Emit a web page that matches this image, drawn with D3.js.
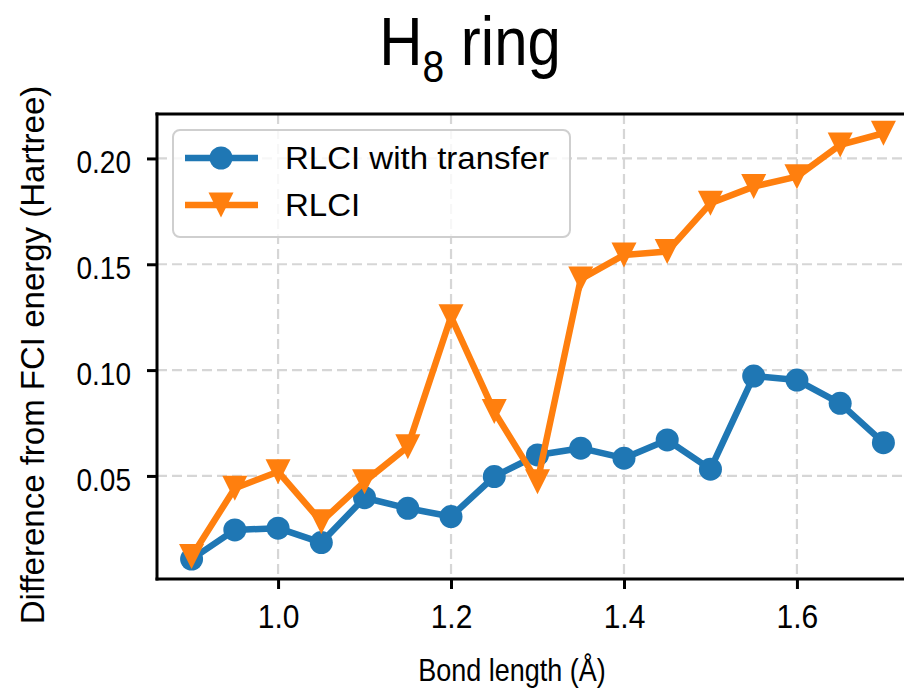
<!DOCTYPE html>
<html>
<head>
<meta charset="utf-8">
<script src="https://cdn.jsdelivr.net/npm/d3@7/dist/d3.min.js"></script>
<style>
  html, body { margin: 0; padding: 0; background: #fff; }
  svg { display: block; }
  text { font-family: "Liberation Sans", Arial, Helvetica, sans-serif; fill: #000; }
</style>
</head>
<body>
<svg id="chart" width="904" height="690"></svg>
<script>
// ---- data ----
const bondLengths = [0.90, 0.95, 1.00, 1.05, 1.10, 1.15, 1.20, 1.25, 1.30, 1.35, 1.40, 1.45, 1.50, 1.55, 1.60, 1.65, 1.70];
const rlciTransfer = [0.0107, 0.0245, 0.0253, 0.0185, 0.0397, 0.0347, 0.0308, 0.0497, 0.0599, 0.0631, 0.0584, 0.0670, 0.0532, 0.0972, 0.0953, 0.0843, 0.0657];
const rlci = [0.0119, 0.0442, 0.0520, 0.0284, 0.0473, 0.0638, 0.1252, 0.0804, 0.0473, 0.1430, 0.1544, 0.1560, 0.1788, 0.1867, 0.1914, 0.2064, 0.2119];
const xTicks = [1.0, 1.2, 1.4, 1.6];
const yTicks = [0.05, 0.10, 0.15, 0.20];
const seriesNames = ["RLCI with transfer", "RLCI"];
const seriesColors = ["#1f77b4", "#ff7f0e"];
const xDomain = [0.86, 1.74];
const yDomain = [0.0013, 0.2210];

// ---- layout ----
const svg = d3.select("#chart");
const plot = { left: 157, right: 918, top: 114, bottom: 579 };
const SY = 1.15; // vertical text stretch seen in reference

const x = d3.scaleLinear().domain(xDomain).range([plot.left, plot.right]);
const y = d3.scaleLinear().domain(yDomain).range([plot.bottom, plot.top]);

// grid
const grid = svg.append("g");
grid.selectAll("line.gx").data(xTicks).join("line")
  .attr("x1", d => x(d)).attr("x2", d => x(d))
  .attr("y1", plot.top).attr("y2", plot.bottom)
  .attr("stroke", "#d6d6d6").attr("stroke-width", 2.2).attr("stroke-dasharray", "10,5");
grid.selectAll("line.gy").data(yTicks).join("line")
  .attr("x1", plot.left).attr("x2", plot.right)
  .attr("y1", d => y(d)).attr("y2", d => y(d))
  .attr("stroke", "#d6d6d6").attr("stroke-width", 2.2).attr("stroke-dasharray", "10,5");

// series
const series = [rlciTransfer, rlci];
const line = d3.line().x(d => x(d[0])).y(d => y(d[1]));
const tri = (cx, cy, s) => `M${cx - s/2},${cy - s/2} L${cx + s/2},${cy - s/2} L${cx},${cy + s/2} Z`;

series.forEach((vals, i) => {
  const pts = bondLengths.map((b, k) => [b, vals[k]]);
  const g = svg.append("g");
  g.append("path").datum(pts).attr("d", line)
    .attr("fill", "none").attr("stroke", seriesColors[i]).attr("stroke-width", 6.5)
    .attr("stroke-linejoin", "round").attr("stroke-linecap", "butt");
  if (i === 0) {
    g.selectAll("circle").data(pts).join("circle")
      .attr("cx", d => x(d[0])).attr("cy", d => y(d[1])).attr("r", 11.5)
      .attr("fill", seriesColors[i]);
  } else {
    g.selectAll("path.m").data(pts).join("path").attr("class", "m")
      .attr("d", d => tri(x(d[0]), y(d[1]), 25))
      .attr("fill", seriesColors[i]);
  }
});

// axes
const xAxis = d3.axisBottom(x).tickValues(xTicks).tickFormat(d3.format(".1f")).tickSize(10).tickSizeOuter(0);
const yAxis = d3.axisLeft(y).tickValues(yTicks).tickFormat(d3.format(".2f")).tickSize(10).tickSizeOuter(0);

const gx = svg.append("g").attr("transform", `translate(0,${plot.bottom})`).call(xAxis);
gx.select(".domain").remove();
gx.selectAll(".tick line").attr("stroke", "#000").attr("stroke-width", 3);
gx.selectAll(".tick text")
  .attr("y", null).attr("dy", null)
  .attr("transform", `translate(0,49) scale(1,${SY * 0.95})`)
  .attr("font-size", 30).attr("font-family", "Liberation Sans, Arial, sans-serif")
  .attr("fill", "#111");

const gy = svg.append("g").attr("transform", `translate(${plot.left},0)`).call(yAxis);
gy.select(".domain").remove();
gy.selectAll(".tick line").attr("stroke", "#000").attr("stroke-width", 3);
gy.selectAll(".tick text")
  .attr("x", null).attr("dy", null)
  .attr("transform", `translate(-26,14.5) scale(1,${SY})`)
  .attr("font-size", 28).attr("font-family", "Liberation Sans, Arial, sans-serif")
  .attr("fill", "#111");

// spines
const sp = svg.append("g").attr("stroke", "#000").attr("stroke-width", 3).attr("stroke-linecap", "square");
sp.append("line").attr("x1", plot.left).attr("x2", plot.left).attr("y1", plot.top).attr("y2", plot.bottom);
sp.append("line").attr("x1", plot.left).attr("x2", plot.right).attr("y1", plot.bottom).attr("y2", plot.bottom);
sp.append("line").attr("x1", plot.left).attr("x2", plot.right).attr("y1", plot.top).attr("y2", plot.top);
sp.append("line").attr("x1", plot.right).attr("x2", plot.right).attr("y1", plot.top).attr("y2", plot.bottom);

// legend
const lg = svg.append("g");
lg.append("rect").attr("x", 173).attr("y", 130).attr("width", 397).attr("height", 107)
  .attr("rx", 7).attr("fill", "#fff").attr("fill-opacity", 0.8)
  .attr("stroke", "#cfcfcf").attr("stroke-width", 2);
const rowY = [158, 205];
seriesNames.forEach((name, i) => {
  const ry = rowY[i];
  lg.append("line").attr("x1", 185).attr("x2", 258).attr("y1", ry).attr("y2", ry)
    .attr("stroke", seriesColors[i]).attr("stroke-width", 6.5);
  if (i === 0) lg.append("circle").attr("cx", 221).attr("cy", ry).attr("r", 11.5).attr("fill", seriesColors[i]);
  else lg.append("path").attr("d", tri(221, ry, 25)).attr("fill", seriesColors[i]);
  lg.append("text").attr("transform", `translate(285,${ry + 11}) scale(1,0.95)`)
    .attr("font-size", 33).attr("fill", "#111").text(name);
});

// axis labels
svg.append("text").attr("transform", `translate(512,681) scale(1,${SY})`)
  .attr("text-anchor", "middle").attr("font-size", 27).attr("fill", "#111")
  .text("Bond length (Å)");
svg.append("text").attr("transform", `translate(44,355) rotate(-90)`)
  .attr("text-anchor", "middle").attr("font-size", 33).attr("fill", "#111")
  .text("Difference from FCI energy (Hartree)");

// title
const title = svg.append("text").attr("transform", `translate(470,65) scale(1,${SY})`)
  .attr("text-anchor", "middle").attr("font-size", 60);
title.append("tspan").text("H");
title.append("tspan").attr("font-size", 39).attr("dy", 15).text("8");
title.append("tspan").attr("dy", -15).text(" ring");
</script>
</body>
</html>
